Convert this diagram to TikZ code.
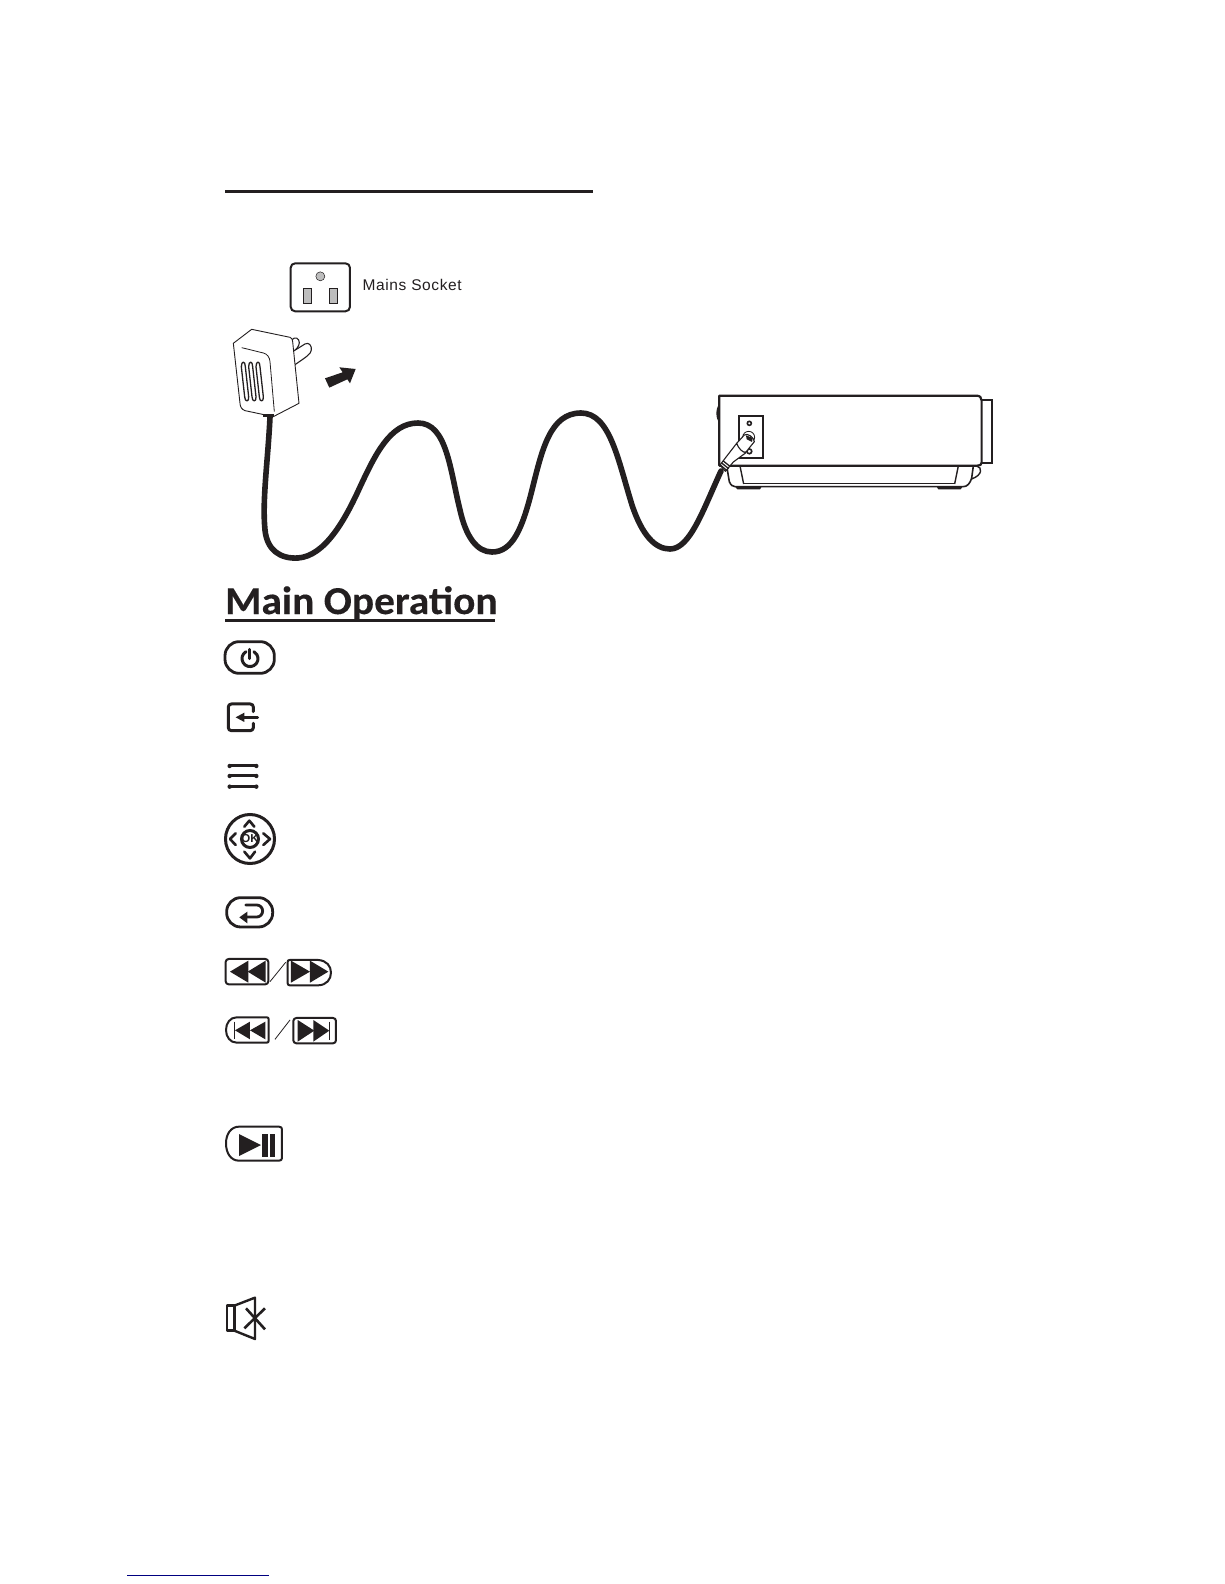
\documentclass[tikz,border=0pt]{standalone}
\usepackage{fontspec}
\setmainfont{Liberation Sans}
\newfontfamily\headfont{Carlito}[Ligatures=Common,FakeStretch=1.05,BoldFeatures={FakeBold=0.25}]
\newfontfamily\labelfont{Liberation Sans}[LetterSpace=4]
\definecolor{ink}{HTML}{231F20}
\definecolor{slot}{HTML}{BDBDBD}
\definecolor{linkblue}{HTML}{000080}
\tikzset{
  thinline/.style={draw=ink,line width=0.8pt},
  midline/.style={draw=ink,line width=1.4pt},
  iconline/.style={draw=ink,line width=2.8pt,line join=round,line cap=round},
  boxline/.style={draw=ink,line width=2pt,line join=round},
  zoomA/.style={shift={(210,170)},x=0.3333pt,y=-0.3333pt},
  zoomB/.style={shift={(690,380)},x=0.3333pt,y=-0.3333pt},
  zoomC/.style={shift={(215,580)},x=0.3333pt,y=-0.3333pt},
  zoomD/.style={shift={(215,800)},x=0.3333pt,y=-0.3333pt},
  zoomE/.style={shift={(215,1110)},x=0.3333pt,y=-0.3333pt},
}
\begin{document}
\begin{tikzpicture}[x=1pt,y=-1pt]
\useasboundingbox (0,0) rectangle (1224,1584);
\fill[white] (0,0) rectangle (1224,1584);
% top rule
\draw[draw=ink,line width=3pt] (225,191) -- (593,191);
% device
\begin{scope}[zoomB]
\draw[midline,line width=1.6pt] (88,75) .. controls (79,90) and (79,110) .. (88,125);
\draw[midline,line width=2pt] (875,60) -- (905,60) -- (905,250) -- (875,250);
\draw[midline,line width=1.6pt] (110,258) -- (118,305) .. controls (122,315) and (128,320) .. (135,320) -- (820,320) .. controls (832,320) and (840,310) .. (845,295) -- (850,258);
\draw[midline] (160,310) -- (795,310);
\draw[midline] (150,258) -- (161,312);
\draw[midline] (805,258) -- (794,312);
\draw[midline] (860,258) .. controls (878,262) and (878,285) .. (845,297);
\fill[ink] (135,320) -- (215,320) -- (210,328) -- (142,328) -- cycle;
\fill[ink] (740,320) -- (818,320) -- (812,328) -- (745,328) -- cycle;
\filldraw[fill=white,draw=ink,line width=2.2pt,line join=round]
  (88,47) -- (860,47) .. controls (870,47) and (875,53) .. (875,62) -- (875,248) .. controls (875,254) and (870,257) .. (862,257) -- (88,257) -- cycle;
\draw[draw=ink,line width=2.2pt] (147,107) rectangle (219,235);
\draw[draw=ink,line width=1.6pt] (178,130) circle (2pt);
\draw[draw=ink,line width=1.6pt] (178,214) circle (2.4pt);
\draw[thinline] (176,172) circle (6pt);
% plug and strain relief
\filldraw[fill=white,draw=ink,line width=1.1pt,line join=round]
  (163,165) .. controls (172,158) and (192,172) .. (193,185) -- (168,216) .. controls (160,222) and (140,205) .. (140,190) -- cycle;
\fill[ink] (168,166) -- (188,174) -- (186,186) -- (170,178) -- cycle;
\filldraw[fill=white,draw=ink,line width=1.1pt,line join=round]
  (140,190) .. controls (145,205) and (158,218) .. (168,218) -- (130,246) -- (106,274) -- (90,255) -- (106,234) -- cycle;
\draw[draw=ink,line width=1.3pt] (100,243) -- (121,260) (95,249) -- (116,266) (91,255) -- (111,272);
\end{scope}
% cable
\draw[ink,line width=5.6pt,line cap=round,line join=round]
  (270,417) .. controls (268,460) and (262,500) .. (265,530)
  .. controls (267,550) and (280,559) .. (298,558)
  .. controls (325,556) and (345,520) .. (360,487)
  .. controls (375,455) and (390,423) .. (418,423)
  .. controls (447,423) and (450,470) .. (460,510)
  .. controls (466,537) and (477,552) .. (492,552)
  .. controls (512,552) and (522,530) .. (532,490)
  .. controls (542,450) and (550,413) .. (581,413)
  .. controls (610,413) and (618,460) .. (632,505)
  .. controls (642,535) and (655,549) .. (670,549)
  .. controls (690,549) and (703,510) .. (721,471);
% socket
\begin{scope}[zoomA]
\draw[draw=ink,line width=2pt,rounded corners=4.5pt] (242,280) rectangle (420,424);
\filldraw[fill=slot,draw=ink,line width=0.5pt] (331,319) circle (4.5pt);
\filldraw[fill=slot,draw=ink,line width=1pt] (280,355) rectangle (305,400);
\filldraw[fill=slot,draw=ink,line width=1pt] (358,355) rectangle (383,400);
% adapter prongs
\draw[thinline,line width=1.1pt] (245,510) .. controls (255,498) and (268,505) .. (268,518) .. controls (268,528) and (258,540) .. (248,546);
\filldraw[fill=white,draw=ink,line width=1.1pt] (248,545) -- (285,522) .. controls (297,515) and (306,528) .. (304,540) .. controls (303,552) and (290,560) .. (255,584);
% adapter body
\filldraw[fill=white,draw=ink,line width=0.9pt,line join=round]
  (70,520) -- (125,478) -- (240,502) .. controls (246,504) and (247,508) .. (248,515)
  -- (267,700) -- (190,740) -- (105,722) .. controls (95,718) and (91,712) .. (90,700) -- cycle;
\draw[thinline] (95,533) -- (160,549) .. controls (172,552) and (179,562) .. (180,575) -- (193,725);
\foreach \dx in {0,22,44}{
  \draw[draw=ink,line width=1.3pt,line join=round,xshift=\dx*0.3333pt]
    (94,590) .. controls (94,572) and (106,572) .. (106,590) -- (116,680)
    .. controls (118,697) and (104,697) .. (104,680) -- cycle;
}
\fill[ink] (160,732) rectangle (192,742);
% arrow
\fill[ink] (345,625) -- (358,653) -- (412,628) -- (420,640) -- (437,597) -- (388,592) -- (398,607) -- cycle;
% label
\node[anchor=base west,inner sep=0pt,text=ink,font=\labelfont\fontsize{15.5}{15.5}\selectfont] (mains) at (457,362) {Mains Socket};
\end{scope}
% heading
\node[anchor=base west,inner sep=0pt,text=ink,font=\headfont\bfseries\fontsize{39.5}{39.5}\selectfont] (heading) at (225,614) {Main Operation};
\draw[draw=ink,line width=3pt] (225,620) -- (495,620);
\begin{scope}[zoomC]
% power
\draw[iconline,rounded corners=14pt] (30,185) rectangle (178,280);
\draw[iconline,line width=3pt] (93,215) arc[start angle=120,end angle=420,radius=8pt];
\draw[iconline,line width=3pt] (105,208) -- (105,236);
% input
\draw[iconline,line width=3pt,rounded corners=3pt] (115,395) -- (115,372) -- (40,372) -- (40,452) -- (115,452) -- (115,430);
\draw[iconline] (128,412) -- (80,412);
\fill[ink] (62,412) -- (88,398) -- (88,426) -- cycle;
% menu
\foreach \yy in {558,588,620}{
  \draw[draw=ink,line width=3pt] (44,\yy) -- (124,\yy);
  \fill[ink] (44,\yy) circle (2.2pt) (124,\yy) circle (2.2pt);
}
\end{scope}
\begin{scope}[zoomD]
% ok pad
\draw[draw=ink,line width=3pt] (105,117) circle (24.5pt);
\draw[draw=ink,line width=3pt] (105,117) circle (8.5pt);
\node[inner sep=0pt,text=ink,font=\bfseries\fontsize{11.5}{11.5}\selectfont] (oktext) at (105,117) {OK};
\draw[iconline,line width=2.6pt] (88,80) -- (103,62) -- (118,80);
\draw[iconline,line width=2.6pt] (88,155) -- (105,175) -- (120,155);
\draw[iconline,line width=2.6pt] (62,100) -- (45,117) -- (62,135);
\draw[iconline,line width=2.6pt] (145,100) -- (165,117) -- (145,135);
% return
\draw[iconline,rounded corners=14pt] (35,293) rectangle (173,381);
\draw[iconline] (92,315) -- (125,315) arc[start angle=90,end angle=-90,radius=6pt] -- (92,351);
\fill[ink] (73,352) -- (97,335) -- (97,370) -- cycle;
% rew
\draw[boxline,rounded corners=3pt] (32,477) rectangle (160,553);
\fill[ink] (45,515) -- (100,482) -- (100,548) -- cycle;
\fill[ink] (98,515) -- (152,482) -- (152,548) -- cycle;
\draw[thinline] (165,545) -- (212,487);
% ff
\draw[boxline] (224,480) -- (310,480) .. controls (335,482) and (348,498) .. (348,518) .. controls (348,538) and (335,555) .. (310,556) -- (224,556) .. controls (220,556) and (218,553) .. (218,550) -- (218,486) .. controls (218,482) and (220,480) .. (224,480) -- cycle;
\fill[ink] (228,482) -- (285,515) -- (228,548) -- cycle;
\fill[ink] (285,482) -- (340,515) -- (285,548) -- cycle;
% prev
\draw[boxline] (65,652) -- (155,652) .. controls (159,652) and (161,654) .. (161,658) -- (161,722) .. controls (161,726) and (159,728) .. (155,728) -- (65,728) .. controls (45,728) and (33,710) .. (33,690) .. controls (33,670) and (45,652) .. (65,652) -- cycle;
\draw[thinline,line width=1pt] (57,665) -- (57,718);
\fill[ink] (60,691) -- (105,665) -- (105,718) -- cycle;
\fill[ink] (105,691) -- (151,665) -- (151,718) -- cycle;
\draw[thinline] (180,718) -- (225,660);
% next
\draw[boxline,rounded corners=3pt] (235,654) rectangle (363,730);
\draw[thinline,line width=1pt] (345,665) -- (345,720);
\fill[ink] (248,660) -- (298,692) -- (248,725) -- cycle;
\fill[ink] (295,660) -- (343,692) -- (295,725) -- cycle;
\end{scope}
\begin{scope}[zoomE]
% play pause
\draw[boxline] (72,50) -- (192,50) .. controls (198,50) and (201,53) .. (201,58) -- (201,144) .. controls (201,149) and (198,152) .. (192,152) -- (72,152) .. controls (48,152) and (33,130) .. (33,100) .. controls (33,72) and (48,50) .. (72,50) -- cycle;
\fill[ink] (72,72) -- (138,105) -- (72,138) -- cycle;
\fill[ink] (142,72) rectangle (158,140);
\fill[ink] (165,72) rectangle (180,140);
% mute
\draw[draw=ink,line width=2.4pt,line join=round] (36,587) rectangle (58,662);
\draw[draw=ink,line width=2.4pt,line join=round] (58,587) -- (120,563) -- (120,687) -- (58,662);
\draw[draw=ink,line width=2.6pt] (150,595) -- (88,655);
\draw[draw=ink,line width=2.6pt] (93,595) -- (150,658);
\end{scope}
% footer link rule
\draw[draw=linkblue,line width=1pt] (127,1575) -- (269,1575);
\end{tikzpicture}
\end{document}
